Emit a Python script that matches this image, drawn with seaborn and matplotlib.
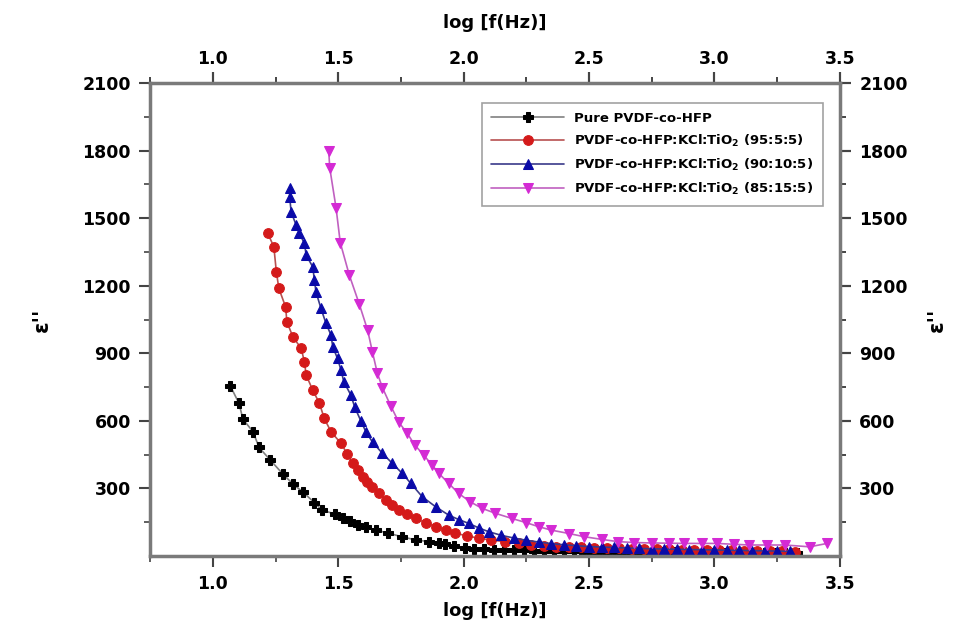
import numpy as np
import pandas as pd
import matplotlib
matplotlib.use('Agg')
import matplotlib.pyplot as plt
from matplotlib.ticker import MultipleLocator, FormatStrFormatter, FixedLocator
import seaborn as sns

# data (log f, epsilon'')
pure_x = [1.070, 1.104, 1.120, 1.160, 1.184, 1.229, 1.279, 1.319, 1.358, 1.405,
          1.435, 1.488, 1.517, 1.545, 1.577, 1.610, 1.650, 1.700, 1.754, 1.808,
          1.861, 1.900, 1.927, 1.960, 2.007, 2.04, 2.08, 2.12, 2.16, 2.20,
          2.24, 2.28, 2.32, 2.36, 2.40, 2.44, 2.48, 2.52, 2.56, 2.60,
          2.64, 2.68, 2.72, 2.76, 2.80, 2.84, 2.88, 2.92, 2.96, 3.00,
          3.04, 3.08, 3.12, 3.16, 3.20, 3.24, 3.28, 3.33]
pure_y = [754, 678, 607, 552, 482, 426, 364, 320, 285, 237,
          204, 186, 170, 155, 140, 128, 115, 102, 85, 72,
          64, 58, 54, 45, 36, 32, 30, 28, 27, 26,
          25, 24, 23, 22, 22, 21, 20, 20, 19, 19,
          18, 18, 17, 17, 16, 16, 15, 15, 15, 14,
          14, 14, 13, 13, 13, 12, 12, 12]

s95_x = [1.219, 1.243, 1.253, 1.263, 1.290, 1.295, 1.319, 1.352, 1.365, 1.372,
         1.398, 1.425, 1.444, 1.471, 1.511, 1.535, 1.557, 1.577, 1.597, 1.616,
         1.636, 1.662, 1.689, 1.715, 1.742, 1.775, 1.808, 1.848, 1.888, 1.928,
         1.967, 2.013, 2.06, 2.11, 2.165, 2.22, 2.27, 2.32, 2.37, 2.42,
         2.47, 2.52, 2.57, 2.62, 2.67, 2.72, 2.77, 2.82, 2.87, 2.92,
         2.97, 3.02, 3.07, 3.12, 3.17, 3.22, 3.27, 3.32]
s95_y = [1432, 1373, 1262, 1188, 1106, 1040, 973, 922, 862, 803,
         737, 678, 611, 552, 500, 455, 411, 380, 352, 330,
         308, 278, 249, 225, 204, 185, 167, 148, 130, 115,
         101, 90, 79, 71, 64, 56, 49, 45, 42, 40,
         38, 36, 35, 34, 33, 32, 31, 30, 29, 28,
         27, 26, 25, 24, 23, 22, 21, 20]

s90_x = [1.306, 1.306, 1.312, 1.332, 1.345, 1.365, 1.372, 1.398, 1.405, 1.411,
         1.431, 1.451, 1.471, 1.478, 1.497, 1.511, 1.522, 1.550, 1.566, 1.590,
         1.610, 1.637, 1.676, 1.716, 1.755, 1.789, 1.835, 1.888, 1.940, 1.98,
         2.02, 2.06, 2.10, 2.15, 2.20, 2.25, 2.30, 2.35, 2.40, 2.45,
         2.50, 2.55, 2.60, 2.65, 2.70, 2.75, 2.80, 2.85, 2.90, 2.95,
         3.00, 3.05, 3.10, 3.15, 3.20, 3.25, 3.30]
s90_y = [1632, 1595, 1528, 1469, 1432, 1388, 1336, 1284, 1225, 1173,
         1099, 1033, 981, 929, 877, 825, 774, 715, 660, 600,
         552, 505, 456, 411, 367, 323, 263, 219, 182, 162,
         145, 125, 108, 92, 80, 70, 62, 55, 50, 46,
         42, 40, 38, 36, 34, 32, 31, 30, 29, 28,
         27, 26, 25, 24, 23, 22, 21]

s85_x = [1.462, 1.466, 1.491, 1.508, 1.544, 1.583, 1.617, 1.636, 1.656, 1.676,
         1.709, 1.742, 1.775, 1.805, 1.841, 1.874, 1.901, 1.940, 1.980, 2.026,
         2.073, 2.126, 2.192, 2.25, 2.30, 2.35, 2.42, 2.48, 2.55, 2.615,
         2.68, 2.75, 2.82, 2.88, 2.95, 3.01, 3.08, 3.14, 3.21, 3.28,
         3.38, 3.45]
s85_y = [1797, 1723, 1547, 1391, 1247, 1121, 1003, 907, 811, 748,
         667, 593, 545, 493, 448, 404, 367, 323, 278, 241,
         212, 190, 167, 148, 130, 115, 100, 86, 74, 64,
         60, 58, 57, 56, 56, 56, 52, 49, 49, 49,
         41, 56]

labels = ['Pure PVDF-co-HFP',
          r'PVDF-co-HFP:KCl:TiO$_\mathbf{2}$ (95:5:5)',
          r'PVDF-co-HFP:KCl:TiO$_\mathbf{2}$ (90:10:5)',
          r'PVDF-co-HFP:KCl:TiO$_\mathbf{2}$ (85:15:5)']
x_ticks = [1.0, 1.5, 2.0, 2.5, 3.0, 3.5]
x_minor = [0.75, 1.25, 1.75, 2.25, 2.75, 3.25]
y_ticks = [300, 600, 900, 1200, 1500, 1800, 2100]
y_minor = [150, 450, 750, 1050, 1350, 1650, 1950]

sns.set_style('ticks')
plt.rcParams['font.family'] = ['DejaVu Sans']
plt.rcParams['font.weight'] = 'bold'
plt.rcParams['mathtext.default'] = 'bf'
plt.rcParams['text.color'] = 'black'
plt.rcParams['axes.labelcolor'] = 'black'
plt.rcParams['xtick.labelcolor'] = 'black'
plt.rcParams['ytick.labelcolor'] = 'black'

fig = plt.figure(figsize=(9.63, 6.29), dpi=100)
ax = fig.add_axes([0.156, 0.116, 0.716, 0.752])

series = [
    (pure_x, pure_y, labels[0], 'P', 'black', '#808080'),
    (s95_x, s95_y, labels[1], 'o', '#d41a1a', '#b85050'),
    (s90_x, s90_y, labels[2], '^', '#0a0aa8', '#3a3a8a'),
    (s85_x, s85_y, labels[3], 'v', '#d42ad4', '#c060c0'),
]
for xs, ys, lab, mk, mc, lc in series:
    df = pd.DataFrame({'x': xs, 'y': ys})
    sns.lineplot(data=df, x='x', y='y', ax=ax, estimator=None, sort=False,
                 color=lc, linewidth=1.2, marker=mk, markersize=7,
                 markerfacecolor=mc, markeredgecolor=mc, label=lab)

ax.set_xlim(0.75, 3.5)
ax.set_ylim(0, 2100)
ax.set_xticks(x_ticks)
ax.xaxis.set_minor_locator(FixedLocator(x_minor))
ax.xaxis.set_major_formatter(FormatStrFormatter('%.1f'))
ax.set_yticks(y_ticks)
ax.yaxis.set_minor_locator(FixedLocator(y_minor))

for sp in ax.spines.values():
    sp.set_visible(True)
    sp.set_color('#7a7a7a')
    sp.set_linewidth(2.5)

ax.tick_params(which='both', direction='out', color='#444444',
               labelsize=12.5, top=True, right=True)
ax.tick_params(which='major', length=8, width=1.5, pad=6)
ax.tick_params(which='minor', length=4, width=1.2)

ax.set_xlabel('log [f(Hz)]', fontsize=13, fontweight='bold', labelpad=6)
ax.set_ylabel("ε''", fontsize=15, fontweight='bold', labelpad=22)

secx = ax.secondary_xaxis('top')
secx.set_xticks(x_ticks)
secx.xaxis.set_minor_locator(FixedLocator(x_minor))
secx.xaxis.set_major_formatter(FormatStrFormatter('%.1f'))
secx.tick_params(which='both', direction='out', color='#444444', labelsize=12.5)
secx.tick_params(which='major', length=8, width=1.5, pad=3)
secx.tick_params(which='minor', length=4, width=1.2)
secx.set_xlabel('log [f(Hz)]', fontsize=13, fontweight='bold', labelpad=16)
secx.spines['top'].set_visible(False)

secy = ax.secondary_yaxis('right')
secy.set_yticks(y_ticks)
secy.yaxis.set_minor_locator(FixedLocator(y_minor))
secy.tick_params(which='both', direction='out', color='#444444', labelsize=12.5)
secy.tick_params(which='major', length=8, width=1.5, pad=6)
secy.tick_params(which='minor', length=4, width=1.2)
secy.set_ylabel("ε''", fontsize=15, fontweight='bold', labelpad=14, rotation=90)
secy.spines['right'].set_visible(False)

leg = ax.legend(loc='upper right', bbox_to_anchor=(0.985, 0.972),
                prop={'size': 9.5, 'weight': 'bold'}, frameon=True,
                fancybox=False, edgecolor='#8a8a8a', handlelength=5.5,
                borderpad=0.7, labelspacing=0.6)
leg.get_frame().set_linewidth(1.2)

fig.savefig('out.png', dpi=100)
